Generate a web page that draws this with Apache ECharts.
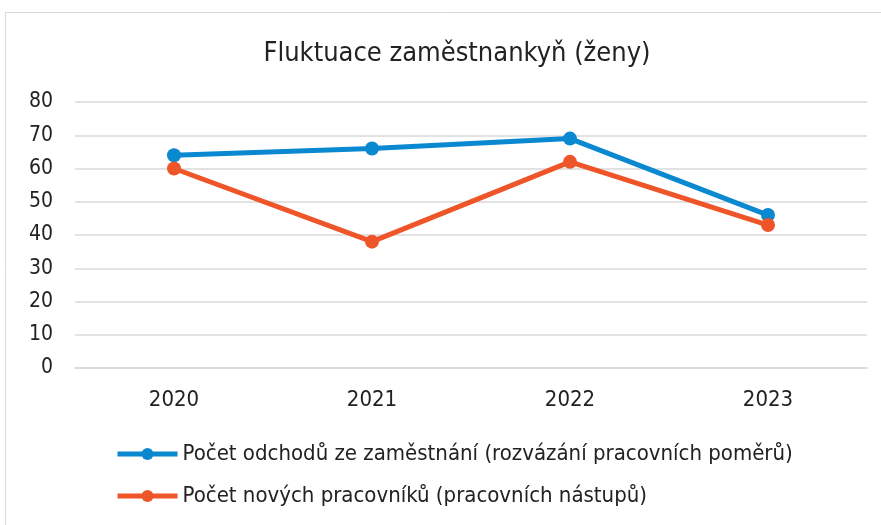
<!DOCTYPE html>
<html><head><meta charset="utf-8">
<script src="https://cdn.jsdelivr.net/npm/echarts@6/dist/echarts.min.js"></script>
<style>html,body{margin:0;padding:0;background:#fff}#c{width:881px;height:525px}</style>
</head><body><div id="c"></div>
<script>
const categories = ['2020', '2021', '2022', '2023'];
const odchody = [64, 66, 69, 46];
const nastupy = [60, 38, 62, 43];
const seriesNames = ['Počet odchodů ze zaměstnání (rozvázání pracovních poměrů)', 'Počet nových pracovníků (pracovních nástupů)'];
const titleText = 'Fluktuace zaměstnankyň (ženy)';
const FONT = '"Liberation Sans Narrow", "DejaVu Sans Condensed", "Roboto Condensed", sans-serif';

const chart = echarts.init(document.getElementById('c'));
chart.setOption({
  animation: false,
  textStyle: { fontFamily: FONT },
  graphic: [{ type: 'rect', shape: { x: 5.5, y: 12.5, width: 900, height: 600 }, style: { fill: 'none', stroke: '#d9d9d9', lineWidth: 1 }, silent: true }],
  title: { text: titleText, left: 452, textAlign: 'center', top: 35, textStyle: { fontFamily: FONT, fontSize: 27, fontWeight: 'normal', color: '#222' } },
  grid: { left: 75, right: 14, top: 102, bottom: 157, containLabel: false },
  xAxis: {
    type: 'category', data: categories, boundaryGap: true,
    axisLine: { show: true, lineStyle: { color: '#d9d9d9', width: 1.5 } },
    axisTick: { show: false },
    axisLabel: { fontFamily: FONT, fontSize: 22, color: '#222', margin: 21 }
  },
  yAxis: {
    type: 'value', min: 0, max: 80, interval: 10,
    axisLine: { show: false }, axisTick: { show: false },
    splitLine: { lineStyle: { color: '#d9d9d9', width: 1.5 } },
    axisLabel: { fontFamily: FONT, fontSize: 21, color: '#222', margin: 22 }
  },
  legend: {
    orient: 'vertical', left: 110, top: 438, itemGap: 20, itemWidth: 60, itemHeight: 15,
    lineStyle: { width: 5 },
    textStyle: { fontFamily: FONT, fontSize: 22, color: '#222' },
    data: seriesNames
  },
  series: [
    { name: seriesNames[0], type: 'line', data: odchody, symbol: 'circle', symbolSize: 14,
      lineStyle: { color: '#0a88d0', width: 5 }, itemStyle: { color: '#0a88d0' } },
    { name: seriesNames[1], type: 'line', data: nastupy, symbol: 'circle', symbolSize: 14,
      lineStyle: { color: '#ee5528', width: 5 }, itemStyle: { color: '#ee5528' } }
  ]
});
</script></body></html>
